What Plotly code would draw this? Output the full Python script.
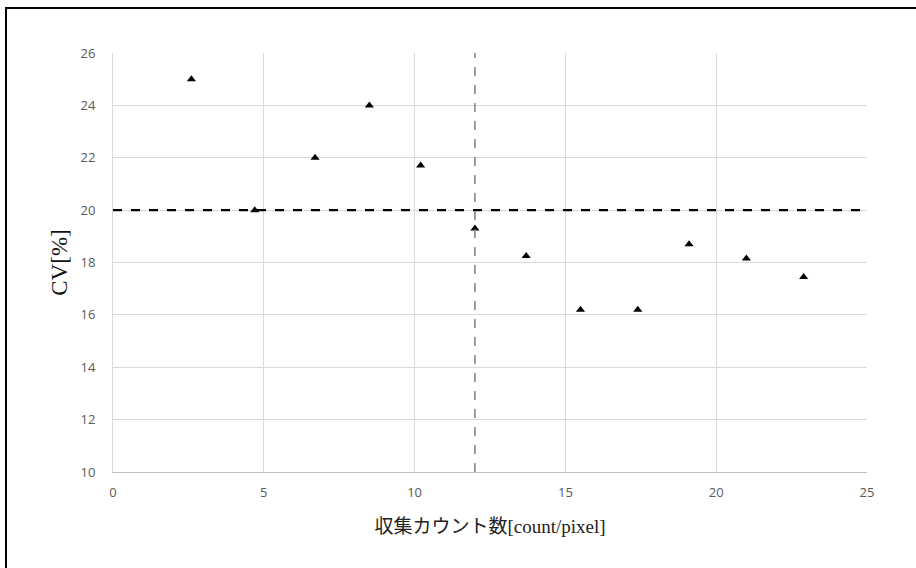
import plotly.graph_objects as go

# data
counts = [2.6, 4.7, 6.7, 8.5, 10.2, 12.0, 13.7, 15.5, 17.4, 19.1, 21.0, 22.9]
cv = [25.0, 20.0, 22.0, 24.0, 21.7, 19.3, 18.25, 16.2, 16.2, 18.7, 18.15, 17.45]
cv_threshold = 20
count_threshold = 12
x_ticks = [0, 5, 10, 15, 20, 25]
y_ticks = [10, 12, 14, 16, 18, 20, 22, 24, 26]

W, H = 916, 568
L, R, T, B = 113, 49, 53, 96
pw, ph = W - L - R, H - T - B

fig = go.Figure()
fig.add_trace(go.Scatter(
    x=counts, y=cv, mode="markers",
    marker=dict(symbol="triangle-up", size=8, color="black"),
    showlegend=False, hoverinfo="x+y"))

# threshold lines
fig.add_shape(type="line", xref="x", yref="y", x0=x_ticks[0], x1=x_ticks[-1],
              y0=cv_threshold, y1=cv_threshold,
              line=dict(color="black", width=2.2, dash="dash"))
fig.add_shape(type="line", xref="x", yref="y", x0=count_threshold, x1=count_threshold,
              y0=y_ticks[0], y1=y_ticks[-1],
              line=dict(color="#7f7f7f", width=1.5, dash="dash"))

# outer frame (only top and left edges visible in the crop)
def px_to_paper_x(p):
    return (p - L) / pw

def px_to_paper_y(p):
    return (H - B - p) / ph

fig.add_shape(type="rect", xref="paper", yref="paper",
              x0=px_to_paper_x(6), x1=px_to_paper_x(W + 20),
              y0=px_to_paper_y(H + 20), y1=px_to_paper_y(8),
              line=dict(color="black", width=2), fillcolor="rgba(0,0,0,0)", layer="below")

tick_font = dict(family="Open Sans, Liberation Sans, sans-serif", size=13, color="#595959")
x_title_font = dict(family="Liberation Serif, Noto Sans CJK JP, serif", size=19, color="#222222")
y_title_font = dict(family="Liberation Serif, serif", size=23, color="#111111")

fig.update_xaxes(range=[x_ticks[0], x_ticks[-1]], tickvals=x_ticks,
                 showgrid=True, gridcolor="#d9d9d9", gridwidth=1,
                 showline=True, linecolor="#bfbfbf", mirror=False,
                 zeroline=False, ticks="", ticklabelstandoff=8,
                 tickfont=tick_font,
                 title=dict(text="収集カウント数[count/pixel]", font=x_title_font, standoff=20))
fig.update_yaxes(range=[y_ticks[0], y_ticks[-1]], tickvals=y_ticks,
                 showgrid=True, gridcolor="#d9d9d9", gridwidth=1,
                 showline=True, linecolor="#d9d9d9",
                 zeroline=False, ticks="", ticklabelstandoff=14,
                 tickfont=tick_font,
                 title=dict(text="CV[%]", font=y_title_font, standoff=6))

fig.update_layout(width=W, height=H, margin=dict(l=L, r=R, t=T, b=B),
                  paper_bgcolor="white", plot_bgcolor="white")

fig.write_html("out.html")
